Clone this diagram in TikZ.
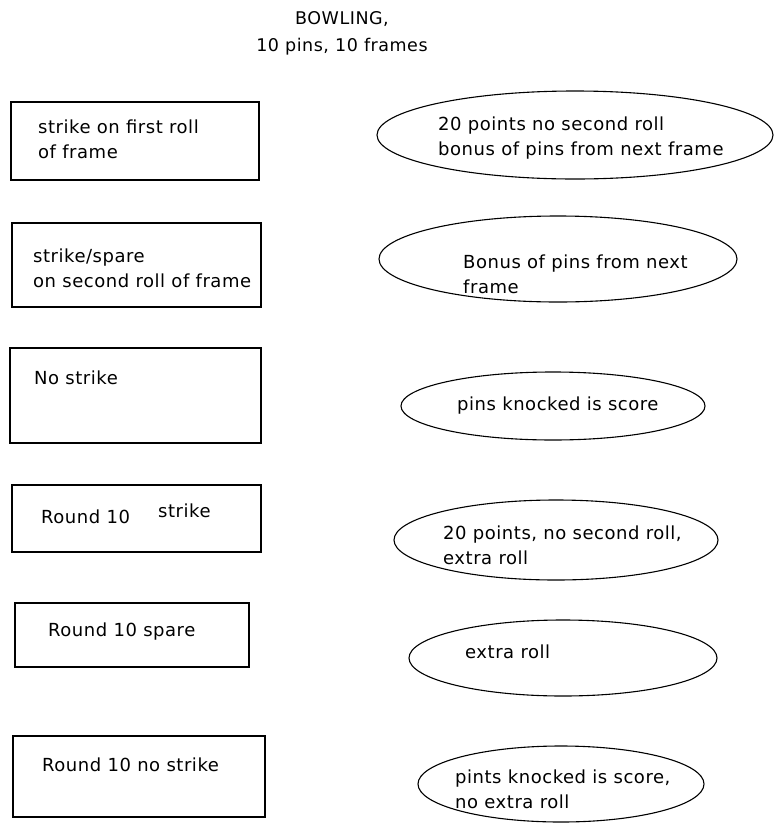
\documentclass[tikz,border=0pt]{standalone}
\usepackage{fontspec}
\setmainfont{DejaVu Sans}[LetterSpace=3]
\usetikzlibrary{shapes.geometric}
\begin{document}
\begin{tikzpicture}[x=1pt,y=-1pt,
  box/.style={draw=black, line width=1.1pt, rectangle, inner sep=0pt},
  oval/.style={draw=black, line width=1.1pt, ellipse, inner sep=0pt},
  lbl/.style={anchor=west, align=left, inner sep=0pt, font=\fontsize{18}{25}\selectfont}]
\useasboundingbox (0,0) rectangle (784,833);
% title
\node[inner sep=0pt, align=center, font=\fontsize{17.5}{27}\selectfont] (title) at (342,33) {BOWLING,\\10 pins, 10 frames};
% boxes
\node[box, minimum width=248pt, minimum height=78pt] (r1) at (135,141) {};
\node[box, minimum width=249pt, minimum height=84pt] (r2) at (136.5,265) {};
\node[box, minimum width=251pt, minimum height=95pt] (r3) at (135.5,395.5) {};
\node[box, minimum width=249pt, minimum height=67pt] (r4) at (136.5,518.5) {};
\node[box, minimum width=234pt, minimum height=64pt] (r5) at (132,635) {};
\node[box, minimum width=252pt, minimum height=81pt] (r6) at (139,776.5) {};
% ellipses
\node[oval, minimum width=396pt, minimum height=88pt] (o1) at (575,135) {};
\node[oval, minimum width=358pt, minimum height=86pt] (o2) at (558,259) {};
\node[oval, minimum width=304pt, minimum height=68pt] (o3) at (553,406) {};
\node[oval, minimum width=324pt, minimum height=80pt] (o4) at (556,540) {};
\node[oval, minimum width=308pt, minimum height=76pt] (o5) at (563,658) {};
\node[oval, minimum width=286pt, minimum height=76pt] (o6) at (561,784) {};
% box texts
\node[lbl] (t1) at (38,139) {strike on first roll\\of frame};
\node[lbl] (t2) at (33,268) {strike/spare\\on second roll of frame};
\node[lbl] (t3) at (34,378) {No strike};
\node[lbl] (t4a) at (41,517) {Round 10};
\node[lbl] (t4b) at (158,511) {strike};
\node[lbl] (t5) at (48,632) {Round 10 spare};
\node[lbl] (t6) at (42,765) {Round 10 no strike};
% ellipse texts
\node[lbl] (e1) at (438,138) {20 points no second roll\\bonus of pins from next frame};
\node[lbl] (e2) at (463,274) {Bonus of pins from next\\frame};
\node[lbl] (e3) at (457,406) {pins knocked is score};
\node[lbl] (e4) at (443,545) {20 points, no second roll,\\extra roll};
\node[lbl] (e5) at (465,652) {extra roll};
\node[lbl] (e6) at (455,789) {pints knocked is score,\\no extra roll};
\end{tikzpicture}
\end{document}
